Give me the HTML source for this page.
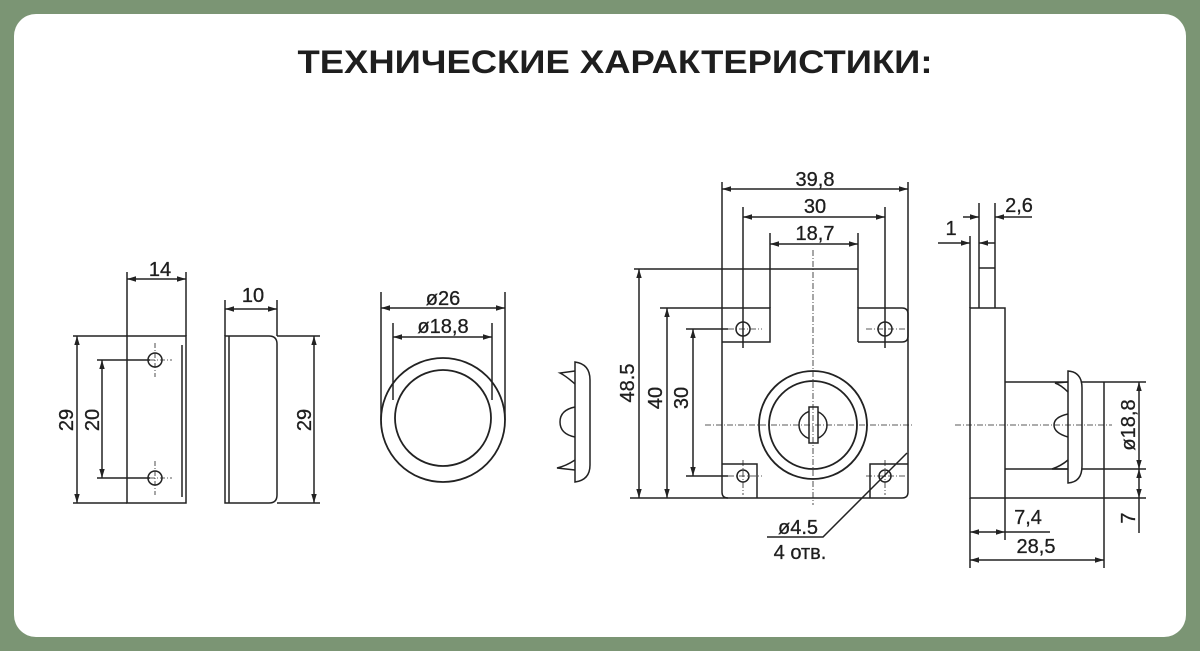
<!DOCTYPE html>
<html><head><meta charset="utf-8"><style>
html,body{margin:0;padding:0;background:#7b9574;}
.p{position:absolute;left:14px;top:14px;width:1172px;height:623px;background:#fff;border-radius:22px;}
svg{position:absolute;left:0;top:0;}
text{font-family:"Liberation Sans","DejaVu Sans",sans-serif;fill:#1e1e1e;}
</style></head><body>
<div class="p"></div>
<svg width="1200" height="651" viewBox="0 0 1200 651">
<defs>
<marker id="a" viewBox="0 0 10 10" refX="10" refY="5" markerWidth="6" markerHeight="6" orient="auto-start-reverse"><path d="M0,2 L10,5 L0,8z" fill="#222"/></marker>
</defs>
<text x="615" y="73" text-anchor="middle" font-size="32" font-weight="bold" textLength="635" lengthAdjust="spacingAndGlyphs">ТЕХНИЧЕСКИЕ ХАРАКТЕРИСТИКИ:</text>
<g stroke="#222" stroke-width="1.5" fill="none">
<!-- left plate -->
<rect x="127" y="336" width="59" height="167"/>
<line x1="182" y1="345" x2="182" y2="497"/>
<circle cx="155" cy="360" r="7"/><circle cx="155" cy="478" r="7"/>
<g stroke-dasharray="5,2,1,2" stroke-width="0.8"><line x1="140" y1="360" x2="172" y2="360"/><line x1="155" y1="343" x2="155" y2="377"/><line x1="140" y1="478" x2="172" y2="478"/><line x1="155" y1="461" x2="155" y2="495"/></g>
<line x1="127" y1="272" x2="127" y2="336"/><line x1="186" y1="272" x2="186" y2="336"/>
<line x1="127" y1="279" x2="186" y2="279" marker-start="url(#a)" marker-end="url(#a)"/>
<line x1="73" y1="336" x2="127" y2="336"/><line x1="73" y1="503" x2="127" y2="503"/>
<line x1="77" y1="336" x2="77" y2="503" marker-start="url(#a)" marker-end="url(#a)"/>
<line x1="97" y1="360" x2="150" y2="360"/><line x1="97" y1="478" x2="150" y2="478"/>
<line x1="102" y1="360" x2="102" y2="478" marker-start="url(#a)" marker-end="url(#a)"/>
<!-- side view -->
<path d="M225,336 H269 Q277,336 277,344 V495 Q277,503 269,503 H225 Z"/>
<line x1="229" y1="336" x2="229" y2="503"/>
<line x1="225" y1="300" x2="225" y2="336"/><line x1="277" y1="300" x2="277" y2="336"/>
<line x1="225" y1="309" x2="277" y2="309" marker-start="url(#a)" marker-end="url(#a)"/>
<line x1="277" y1="336" x2="320" y2="336"/><line x1="277" y1="503" x2="320" y2="503"/>
<line x1="314" y1="336" x2="314" y2="503" marker-start="url(#a)" marker-end="url(#a)"/>
<!-- ring -->
<circle cx="443" cy="420" r="62" stroke-width="1.8"/><circle cx="443" cy="418" r="48" stroke-width="1.8"/>
<line x1="381" y1="292" x2="381" y2="420"/><line x1="505" y1="292" x2="505" y2="420"/>
<line x1="381" y1="308" x2="505" y2="308" marker-start="url(#a)" marker-end="url(#a)"/>
<line x1="393" y1="323" x2="393" y2="400"/><line x1="492" y1="323" x2="492" y2="400"/>
<line x1="393" y1="337" x2="492" y2="337" marker-start="url(#a)" marker-end="url(#a)"/>
<!-- plug -->
<path d="M575,362 Q590,364 590,380 V465 Q590,480 575,482 Z"/>
<path d="M575,371 L560,373 Q566,376 575,384"/>
<path d="M575,407 Q560,410 560,422 Q560,434 575,437"/>
<path d="M575,460 Q566,466 557,468 L575,470"/>
<!-- main lock -->
<path d="M722,308 H770 V342 H722"/>
<path d="M858,342 V308 H902 Q908,308 908,314 V336 Q908,342 902,342 H858"/>
<path d="M722,308 V492 Q722,498 728,498 H902 Q908,498 908,492 V314"/>
<path d="M722,464 H757 V498"/><path d="M870,498 V464 H908"/>
<circle cx="743" cy="329" r="7"/><circle cx="885" cy="329" r="7"/>
<circle cx="743" cy="476" r="6"/><circle cx="885" cy="476" r="6"/>
<circle cx="813" cy="425" r="54" stroke-width="1.8"/><circle cx="813" cy="425" r="44" stroke-width="1.8"/>
<circle cx="813" cy="425" r="14"/>
<rect x="809" y="407" width="9" height="36" fill="#fff"/>
<g stroke-dasharray="6,2,1,2" stroke-width="0.8">
<line x1="813" y1="250" x2="813" y2="505"/><line x1="705" y1="425" x2="912" y2="425"/>
<line x1="728" y1="329" x2="762" y2="329"/><line x1="743" y1="314" x2="743" y2="348"/>
<line x1="866" y1="329" x2="906" y2="329"/><line x1="885" y1="314" x2="885" y2="348"/>
<line x1="728" y1="476" x2="762" y2="476"/><line x1="743" y1="460" x2="743" y2="495"/>
<line x1="866" y1="476" x2="906" y2="476"/><line x1="885" y1="460" x2="885" y2="495"/>
</g>
<line x1="722" y1="182" x2="722" y2="308"/><line x1="908" y1="182" x2="908" y2="314"/>
<line x1="722" y1="189" x2="908" y2="189" marker-start="url(#a)" marker-end="url(#a)"/>
<line x1="743" y1="207" x2="743" y2="348"/><line x1="885" y1="207" x2="885" y2="348"/>
<line x1="743" y1="217" x2="885" y2="217" marker-start="url(#a)" marker-end="url(#a)"/>
<line x1="770" y1="233" x2="770" y2="308"/><line x1="858" y1="233" x2="858" y2="308"/>
<line x1="770" y1="244" x2="858" y2="244" marker-start="url(#a)" marker-end="url(#a)"/>
<line x1="634" y1="269" x2="858" y2="269"/>
<line x1="660" y1="308" x2="722" y2="308"/>
<line x1="630" y1="498" x2="728" y2="498"/>
<line x1="686" y1="329" x2="728" y2="329"/><line x1="686" y1="476" x2="728" y2="476"/>
<line x1="639" y1="269" x2="639" y2="498" marker-start="url(#a)" marker-end="url(#a)"/>
<line x1="667" y1="308" x2="667" y2="498" marker-start="url(#a)" marker-end="url(#a)"/>
<line x1="693" y1="329" x2="693" y2="476" marker-start="url(#a)" marker-end="url(#a)"/>
<polyline points="907,453 823,537 767,537"/>
<!-- right side view -->
<rect x="970" y="308" width="35" height="190"/>
<line x1="979" y1="203" x2="979" y2="308"/><line x1="995" y1="203" x2="995" y2="308"/>
<line x1="979" y1="268" x2="995" y2="268"/>
<line x1="970" y1="236" x2="970" y2="308"/>
<line x1="1005" y1="382" x2="1104" y2="382"/><line x1="1005" y1="469" x2="1104" y2="469"/>
<line x1="1104" y1="382" x2="1104" y2="568"/>
<path d="M1068,371 Q1082,372 1082,388 V466 Q1082,482 1068,483 Z" fill="#fff"/>
<path d="M1068,382 L1055,383 Q1061,385 1068,392"/>
<path d="M1068,414 Q1054,417 1054,425 Q1054,433 1068,437"/>
<path d="M1068,460 Q1061,466 1052,469 L1068,469"/>
<line x1="955" y1="425" x2="1112" y2="425" stroke-dasharray="6,2,1,2" stroke-width="0.8"/>
<line x1="1104" y1="382" x2="1146" y2="382"/><line x1="1104" y1="469" x2="1146" y2="469"/>
<line x1="1005" y1="498" x2="1146" y2="498"/>
<line x1="1139" y1="382" x2="1139" y2="469" marker-start="url(#a)" marker-end="url(#a)"/>
<line x1="1139" y1="469" x2="1139" y2="498" marker-start="url(#a)" marker-end="url(#a)"/>
<line x1="1139" y1="498" x2="1139" y2="533"/>
<line x1="970" y1="498" x2="970" y2="568"/><line x1="1005" y1="498" x2="1005" y2="540"/>
<line x1="970" y1="532" x2="1005" y2="532" marker-start="url(#a)" marker-end="url(#a)"/>
<line x1="1005" y1="532" x2="1050" y2="532"/>
<line x1="970" y1="560" x2="1104" y2="560" marker-start="url(#a)" marker-end="url(#a)"/>
<line x1="938" y1="243" x2="970" y2="243" marker-end="url(#a)"/>
<line x1="995" y1="243" x2="979" y2="243" marker-end="url(#a)"/>
<line x1="963" y1="217" x2="979" y2="217" marker-end="url(#a)"/>
<line x1="1032" y1="217" x2="995" y2="217" marker-end="url(#a)"/>
</g>
<g font-size="20" text-anchor="middle" stroke="#1e1e1e" stroke-width="0.3">
<text x="160" y="276">14</text>
<text x="253" y="302">10</text>
<text transform="translate(73,420) rotate(-90)">29</text>
<text transform="translate(99,420) rotate(-90)">20</text>
<text transform="translate(311,420) rotate(-90)">29</text>
<text x="443" y="305">ø26</text>
<text x="443" y="333">ø18,8</text>
<text x="815" y="186">39,8</text>
<text x="815" y="213">30</text>
<text x="815" y="240">18,7</text>
<text transform="translate(634,383) rotate(-90)">48.5</text>
<text transform="translate(662,398) rotate(-90)">40</text>
<text transform="translate(688,398) rotate(-90)">30</text>
<text x="798" y="534">ø4.5</text>
<text x="800" y="559">4 отв.</text>
<text x="951" y="235">1</text>
<text x="1019" y="212">2,6</text>
<text transform="translate(1135,425) rotate(-90)">ø18,8</text>
<text transform="translate(1135,518) rotate(-90)">7</text>
<text x="1028" y="524">7,4</text>
<text x="1036" y="553">28,5</text>
</g>
</svg>
</body></html>
